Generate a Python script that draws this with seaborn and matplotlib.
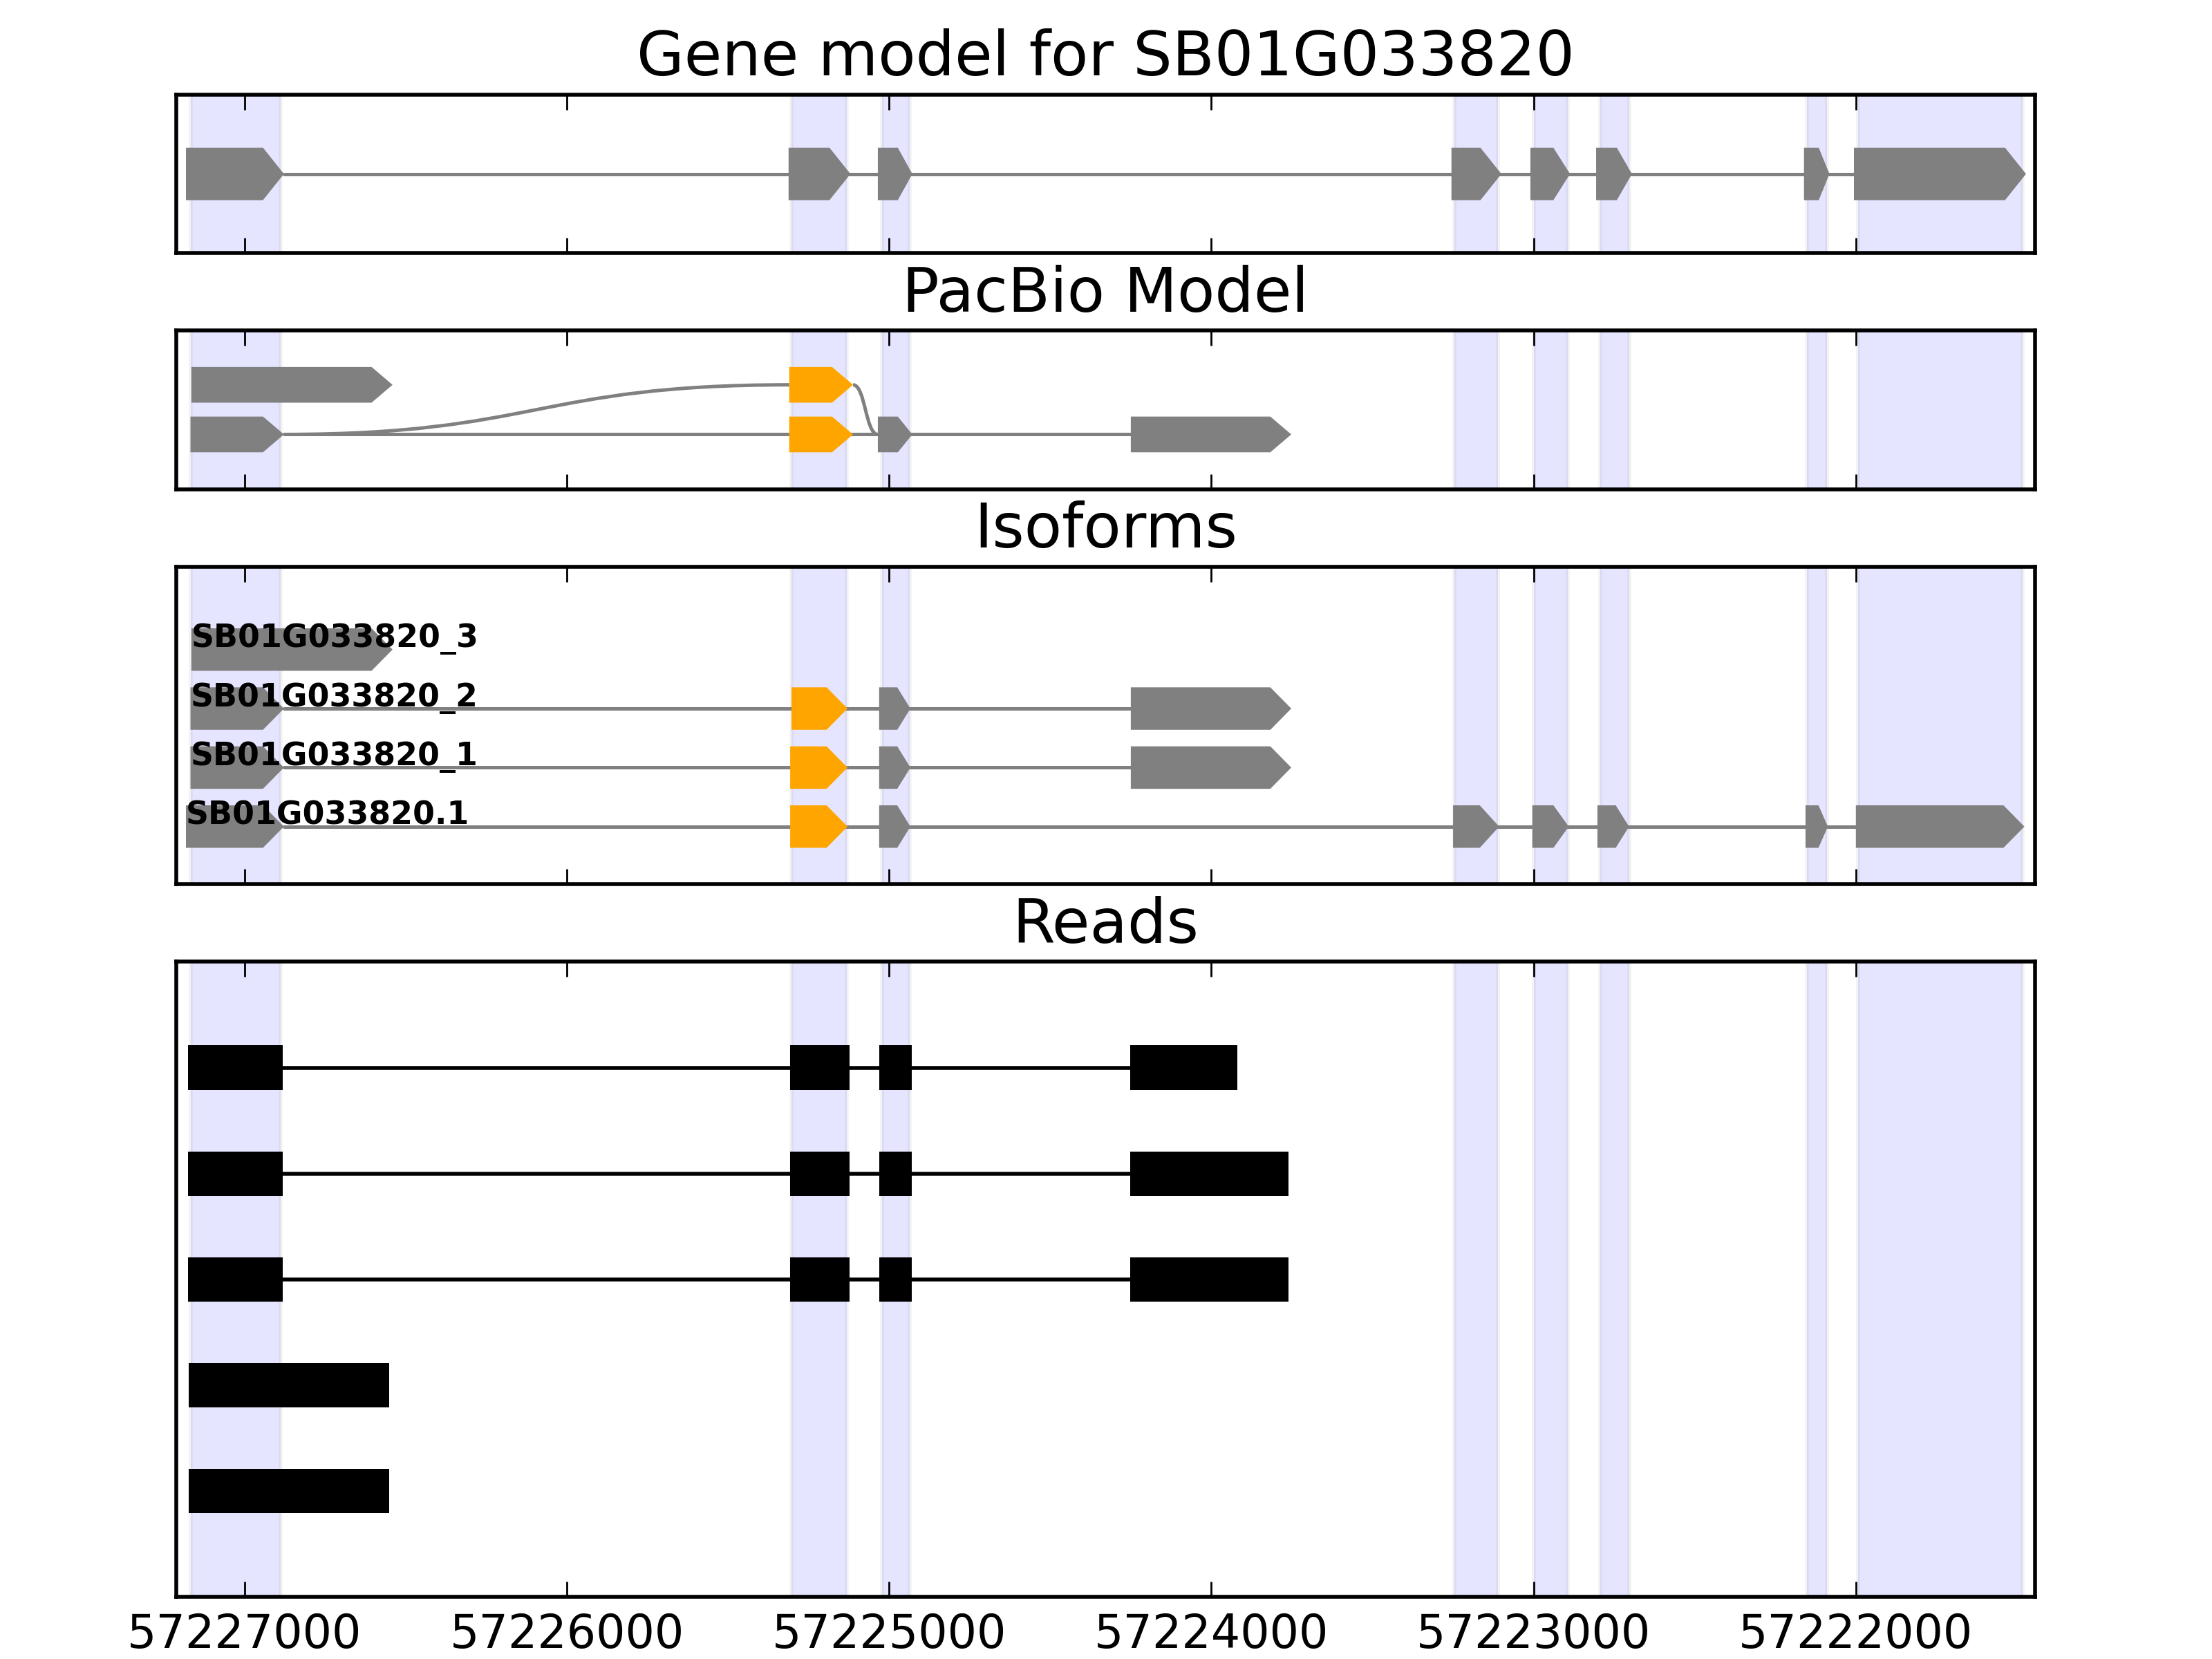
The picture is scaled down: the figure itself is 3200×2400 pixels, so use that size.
import numpy as np
import pandas as pd
import matplotlib
matplotlib.use("Agg")
import matplotlib.pyplot as plt
import seaborn as sns
from matplotlib.patches import Polygon, Rectangle, PathPatch
from matplotlib.path import Path

# ---------------- data ----------------
TITLES = ["Gene model for SB01G033820", "PacBio Model", "Isoforms", "Reads"]
TICKS = [57227000, 57226000, 57225000, 57224000, 57223000, 57222000]
TICK_LABELS = ["57227000", "57226000", "57225000", "57224000", "57223000", "57222000"]
XLIM = (57227212, 57221444)

# shaded exon regions
SPAN_STARTS = [57227168, 57225303, 57225022, 57223245, 57223000, 57222793, 57222151, 57221993]
SPAN_ENDS = [57226889, 57225132, 57224937, 57223111, 57222894, 57222704, 57222090, 57221482]

# gene model
GENE_STARTS = [57227182, 57225312, 57225035, 57223255, 57223010, 57222806, 57222161, 57222006]
GENE_ENDS = [57226878, 57225120, 57224928, 57223100, 57222887, 57222695, 57222082, 57221472]

# PacBio model: row 0 (lower) and row 1 (upper)
PB0_STARTS = [57227168, 57225310, 57225035, 57224250]
PB0_ENDS = [57226878, 57225112, 57224928, 57223752]
PB0_ALT = [False, True, False, False]
PB1_STARTS = [57227165, 57225310]
PB1_ENDS = [57226541, 57225112]
PB1_ALT = [False, True]
JUNC_FROM_X = [57226878, 57225112]
JUNC_FROM_ROW = [0, 1]
JUNC_TO_X = [57225310, 57225035]
JUNC_TO_ROW = [1, 0]

# isoforms (bottom to top)
ISO_NAMES = ["SB01G033820.1", "SB01G033820_1", "SB01G033820_2", "SB01G033820_3"]
ISO0_STARTS = [57227182, 57225307, 57225031, 57223250, 57223004, 57222802, 57222156, 57222000]
ISO0_ENDS = [57226878, 57225129, 57224934, 57223107, 57222891, 57222704, 57222087, 57221477]
ISO0_ALT = [False, True, False, False, False, False, False, False]
ISO1_STARTS = [57227168, 57225307, 57225031, 57224250]
ISO1_ENDS = [57226878, 57225129, 57224934, 57223752]
ISO1_ALT = [False, True, False, False]
ISO2_STARTS = [57227168, 57225303, 57225031, 57224250]
ISO2_ENDS = [57226878, 57225129, 57224934, 57223752]
ISO2_ALT = [False, True, False, False]
ISO3_STARTS = [57227165]
ISO3_ENDS = [57226541]
ISO3_ALT = [False]

# reads (top to bottom)
READ1_STARTS = [57227175, 57225308, 57225031, 57224252]
READ1_ENDS = [57226882, 57225123, 57224930, 57223920]
READ2_STARTS = [57227175, 57225308, 57225031, 57224252]
READ2_ENDS = [57226882, 57225123, 57224930, 57223761]
READ3_STARTS = [57227175, 57225308, 57225031, 57224252]
READ3_ENDS = [57226882, 57225123, 57224930, 57223761]
READ4_STARTS = [57227173]
READ4_ENDS = [57226551]
READ5_STARTS = [57227173]
READ5_ENDS = [57226551]

# ---------------- style ----------------
sns.set_theme(style="white", rc={
    "axes.edgecolor": "black",
    "axes.linewidth": 1.0,
    "text.color": "black",
    "xtick.color": "black",
    "axes.labelcolor": "black",
})
plt.rcParams["font.family"] = ["DejaVu Sans"]

GRAY = "#808080"
ORANGE = "#FFA500"

fig = plt.figure(figsize=(8, 6), dpi=400)
gs = fig.add_gridspec(4, 1, height_ratios=[1, 1, 2, 4], left=0.0797, right=0.92,
                      top=0.943, bottom=0.0375, hspace=0.244)
axes = [fig.add_subplot(gs[0])]
for i in range(1, 4):
    axes.append(fig.add_subplot(gs[i], sharex=axes[0]))


def exon_arrow(ax, s, e, y, h, color):
    L = abs(s - e)
    tip = min(0.42 * L, 65)
    pts = [(s, y - h / 2), (e + tip, y - h / 2), (e, y), (e + tip, y + h / 2), (s, y + h / 2)]
    ax.add_patch(Polygon(pts, closed=True, facecolor=color, edgecolor="none", zorder=3))


def backbone(ax, x0, x1, y, color, lw):
    df = pd.DataFrame({"x": [x0, x1], "y": [y, y]})
    sns.lineplot(data=df, x="x", y="y", ax=ax, color=color, lw=lw,
                 estimator=None, sort=False, zorder=2)


def track(ax, starts, ends, alts, y, h, line=True):
    if line and len(starts) > 1:
        backbone(ax, ends[0], starts[-1], y, GRAY, 0.9)
    for s, e, a in zip(starts, ends, alts):
        exon_arrow(ax, s, e, y, h, ORANGE if a else GRAY)


def junction(ax, x0, y0, x1, y1):
    xm = (x0 + x1) / 2
    verts = [(x0, y0), (xm, y0), (xm, y1), (x1, y1)]
    codes = [Path.MOVETO, Path.CURVE4, Path.CURVE4, Path.CURVE4]
    ax.add_patch(PathPatch(Path(verts, codes), facecolor="none", edgecolor=GRAY,
                           lw=0.9, zorder=2))


for ax in axes:
    for s, e in zip(SPAN_STARTS, SPAN_ENDS):
        ax.axvspan(s, e, facecolor="blue", edgecolor="gray", lw=1.0, alpha=0.1, zorder=0)

# panel 1: gene model
ax = axes[0]
track(ax, GENE_STARTS, GENE_ENDS, [False] * len(GENE_STARTS), 0, 0.72)
ax.set_ylim(-1.09, 1.09)

# panel 2: PacBio model
ax = axes[1]
track(ax, PB0_STARTS, PB0_ENDS, PB0_ALT, 0, 0.72)
track(ax, PB1_STARTS, PB1_ENDS, PB1_ALT, 1, 0.72, line=False)
for fx, fr, tx, tr in zip(JUNC_FROM_X, JUNC_FROM_ROW, JUNC_TO_X, JUNC_TO_ROW):
    junction(ax, fx, fr, tx, tr)
ax.set_ylim(-1.11, 2.09)

# panel 3: isoforms
ax = axes[2]
iso_tracks = [(ISO0_STARTS, ISO0_ENDS, ISO0_ALT), (ISO1_STARTS, ISO1_ENDS, ISO1_ALT),
              (ISO2_STARTS, ISO2_ENDS, ISO2_ALT), (ISO3_STARTS, ISO3_ENDS, ISO3_ALT)]
for row, ((st, en, al), name) in enumerate(zip(iso_tracks, ISO_NAMES)):
    track(ax, st, en, al, row, 0.72)
    ax.text(st[0], row + 0.04, name, ha="left", va="baseline", fontsize=8.25,
            fontweight="bold", color="black", zorder=5)
ax.set_ylim(-0.98, 4.4)

# panel 4: reads
ax = axes[3]
reads = [(READ1_STARTS, READ1_ENDS), (READ2_STARTS, READ2_ENDS), (READ3_STARTS, READ3_ENDS),
         (READ4_STARTS, READ4_ENDS), (READ5_STARTS, READ5_ENDS)]
n = len(reads)
for i, (st, en) in enumerate(reads):
    y = n - 1 - i
    if len(st) > 1:
        backbone(ax, en[0], st[-1], y, "black", 1.0)
    for s, e in zip(st, en):
        ax.add_patch(Rectangle((e, y - 0.21), s - e, 0.42, facecolor="black",
                               edgecolor="none", zorder=3))
ax.set_ylim(-1, 5)

for i, (ax, title) in enumerate(zip(axes, TITLES)):
    ax.set_title(title, fontsize=16, pad=5, color="black")
    ax.set_xlabel("")
    ax.set_ylabel("")
    ax.set_yticks([])
    ax.set_xticks(TICKS)
    ax.tick_params(axis="x", which="major", direction="in", top=True, bottom=True,
                   length=4, width=0.5, color="black", labelsize=12, pad=4,
                   labelbottom=(i == 3), labeltop=False)
    for sp in ax.spines.values():
        sp.set_visible(True)
        sp.set_color("black")
        sp.set_linewidth(1.0)
axes[3].set_xticklabels(TICK_LABELS)
axes[0].set_xlim(*XLIM)

fig.savefig("out.png", dpi=400, facecolor="white")
